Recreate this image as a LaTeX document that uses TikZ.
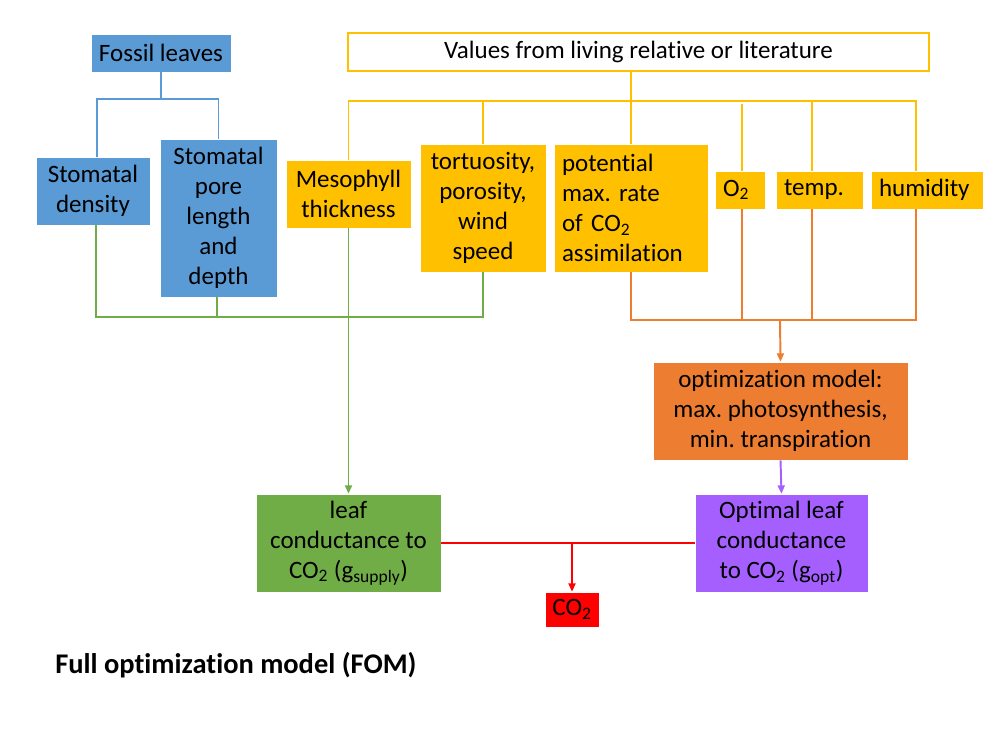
\documentclass[tikz,border=0pt]{standalone}
\usepackage{fontspec}
\setmainfont{Carlito}[Ligatures=NoCommon]
\usetikzlibrary{arrows.meta,calc}
\definecolor{cblue}{HTML}{5B9BD5}
\definecolor{cyellow}{HTML}{FFC000}
\definecolor{corange}{HTML}{ED7D31}
\definecolor{cgreen}{HTML}{70AD47}
\definecolor{cpurple}{HTML}{A55FFF}
\definecolor{cred}{HTML}{FF0000}
\frenchspacing
\begin{document}
\begin{tikzpicture}[x=0.72pt,y=-0.72pt,
  every node/.style={font=\fontsize{18}{21.6}\selectfont, inner sep=0pt, align=center},
  box/.style={draw=white, line width=0.4pt},
  ln/.style={line width=1.4pt},
  arr/.style={ln, -{Triangle[length=6pt,width=5pt]}},
  lbox/.style={box, align=left, inner xsep=5.76pt}]
\useasboundingbox (0,0) rectangle (1000,750);

% top boxes
\node[box, fill=cblue, minimum width=100.8pt, minimum height=27.36pt] (fl) at (161,53) {Fossil leaves};
\node[draw=cyellow, line width=1.4pt, fill=white, minimum width=418.32pt, minimum height=27.36pt] (vals) at (638.5,52) {Values from living relative or literature};

% second row
\node[box, fill=cblue, minimum width=82.08pt, minimum height=48.96pt] (sd) at (93,191) {Stomatal\\density};
\node[box, fill=cblue, minimum width=84.24pt, minimum height=113.76pt] (sp) at (218.5,218) {Stomatal\\pore\\length\\and\\depth};
\node[box, fill=cyellow, minimum width=90pt, minimum height=48.96pt] (meso) at (348.5,194) {Mesophyll\\thickness};
\node[box, fill=cyellow, minimum width=90.72pt, minimum height=92.16pt] (tort) at (483,208) {tortuosity,\\porosity,\\wind\\speed};
\node[lbox, fill=cyellow, text width=99.36pt, minimum height=92.16pt] (pot) at (631,208) {potential\\max. rate\\of CO\textsubscript{2}\\assimilation};
\node[lbox, fill=cyellow, text width=24.48pt, minimum height=27.36pt] (o2) at (740,190) {O\textsubscript{2}};
\node[lbox, fill=cyellow, text width=51.12pt, minimum height=27.36pt] (temp) at (819.5,190) {temp.};
\node[lbox, fill=cyellow, text width=69.12pt, minimum height=27.36pt] (hum) at (927,190) {humidity};

% lower boxes
\node[box, fill=corange, minimum width=183.6pt, minimum height=70.56pt] (opt) at (780.5,411) {optimization model:\\max. photosynthesis,\\min. transpiration};
\node[box, fill=cpurple, minimum width=124.56pt, minimum height=70.56pt] (pur) at (781.5,543) {Optimal leaf\\conductance\\to CO\textsubscript{2} (g\textsubscript{opt})};
\node[box, fill=cgreen, minimum width=133.2pt, minimum height=70.56pt] (leaf) at (348.5,543) {leaf\\conductance to\\CO\textsubscript{2} (g\textsubscript{supply})};
\node[box, fill=cred, minimum width=38.88pt, minimum height=25.2pt] (co2) at (572,609.5) {CO\textsubscript{2}};

\node[anchor=west, font=\fontsize{20.5}{24}\selectfont\bfseries] (title) at (55,665) {Full optimization model (FOM)};

% blue connectors
\draw[ln, cblue] (fl.south) -- ++(0,27);
\draw[ln, cblue] ($(sd.north)+(4,0)$) -- ++(0,-58) -| (sp.north);

% yellow connectors
\draw[ln, cyellow] (pot.north |- vals.south) -- (pot.north);
\draw[ln, cyellow] (meso.north) -- ++(0,-59) -| ($(hum.north)+(-11,0)$);
\draw[ln, cyellow] (tort.north) -- ++(0,-43);
\draw[ln, cyellow] ($(o2.north)+(2,0)$) -- ++(0,-67);
\draw[ln, cyellow] ($(temp.north)+(-7.5,0)$) -- ++(0,-70);

% green connectors
\draw[ln, cgreen] ($(sd.south)+(3,0)$) -- ++(0,92) -| (tort.south);
\draw[ln, cgreen] ($(sp.south)+(-1.5,0)$) -- ++(0,20);
\draw[arr, cgreen] (meso.south) -- (leaf.north);

% orange connectors
\draw[ln, corange] (pot.south) -- ++(0,48) -| ($(hum.south)+(-11,0)$);
\draw[ln, corange] ($(o2.south)+(2,0)$) -- ++(0,111);
\draw[ln, corange] ($(temp.south)+(-7.5,0)$) -- ++(0,111);
\coordinate (obus) at (780,320);
\draw[arr, corange] (obus) -- (opt.north);

% purple
\draw[arr, cpurple] (opt.south) -- (pur.north);

% red
\draw[ln, cred] (leaf.east) -- (pur.west);
\draw[arr, cred] (leaf.east -| co2.north) -- (co2.north);
\end{tikzpicture}
\end{document}
